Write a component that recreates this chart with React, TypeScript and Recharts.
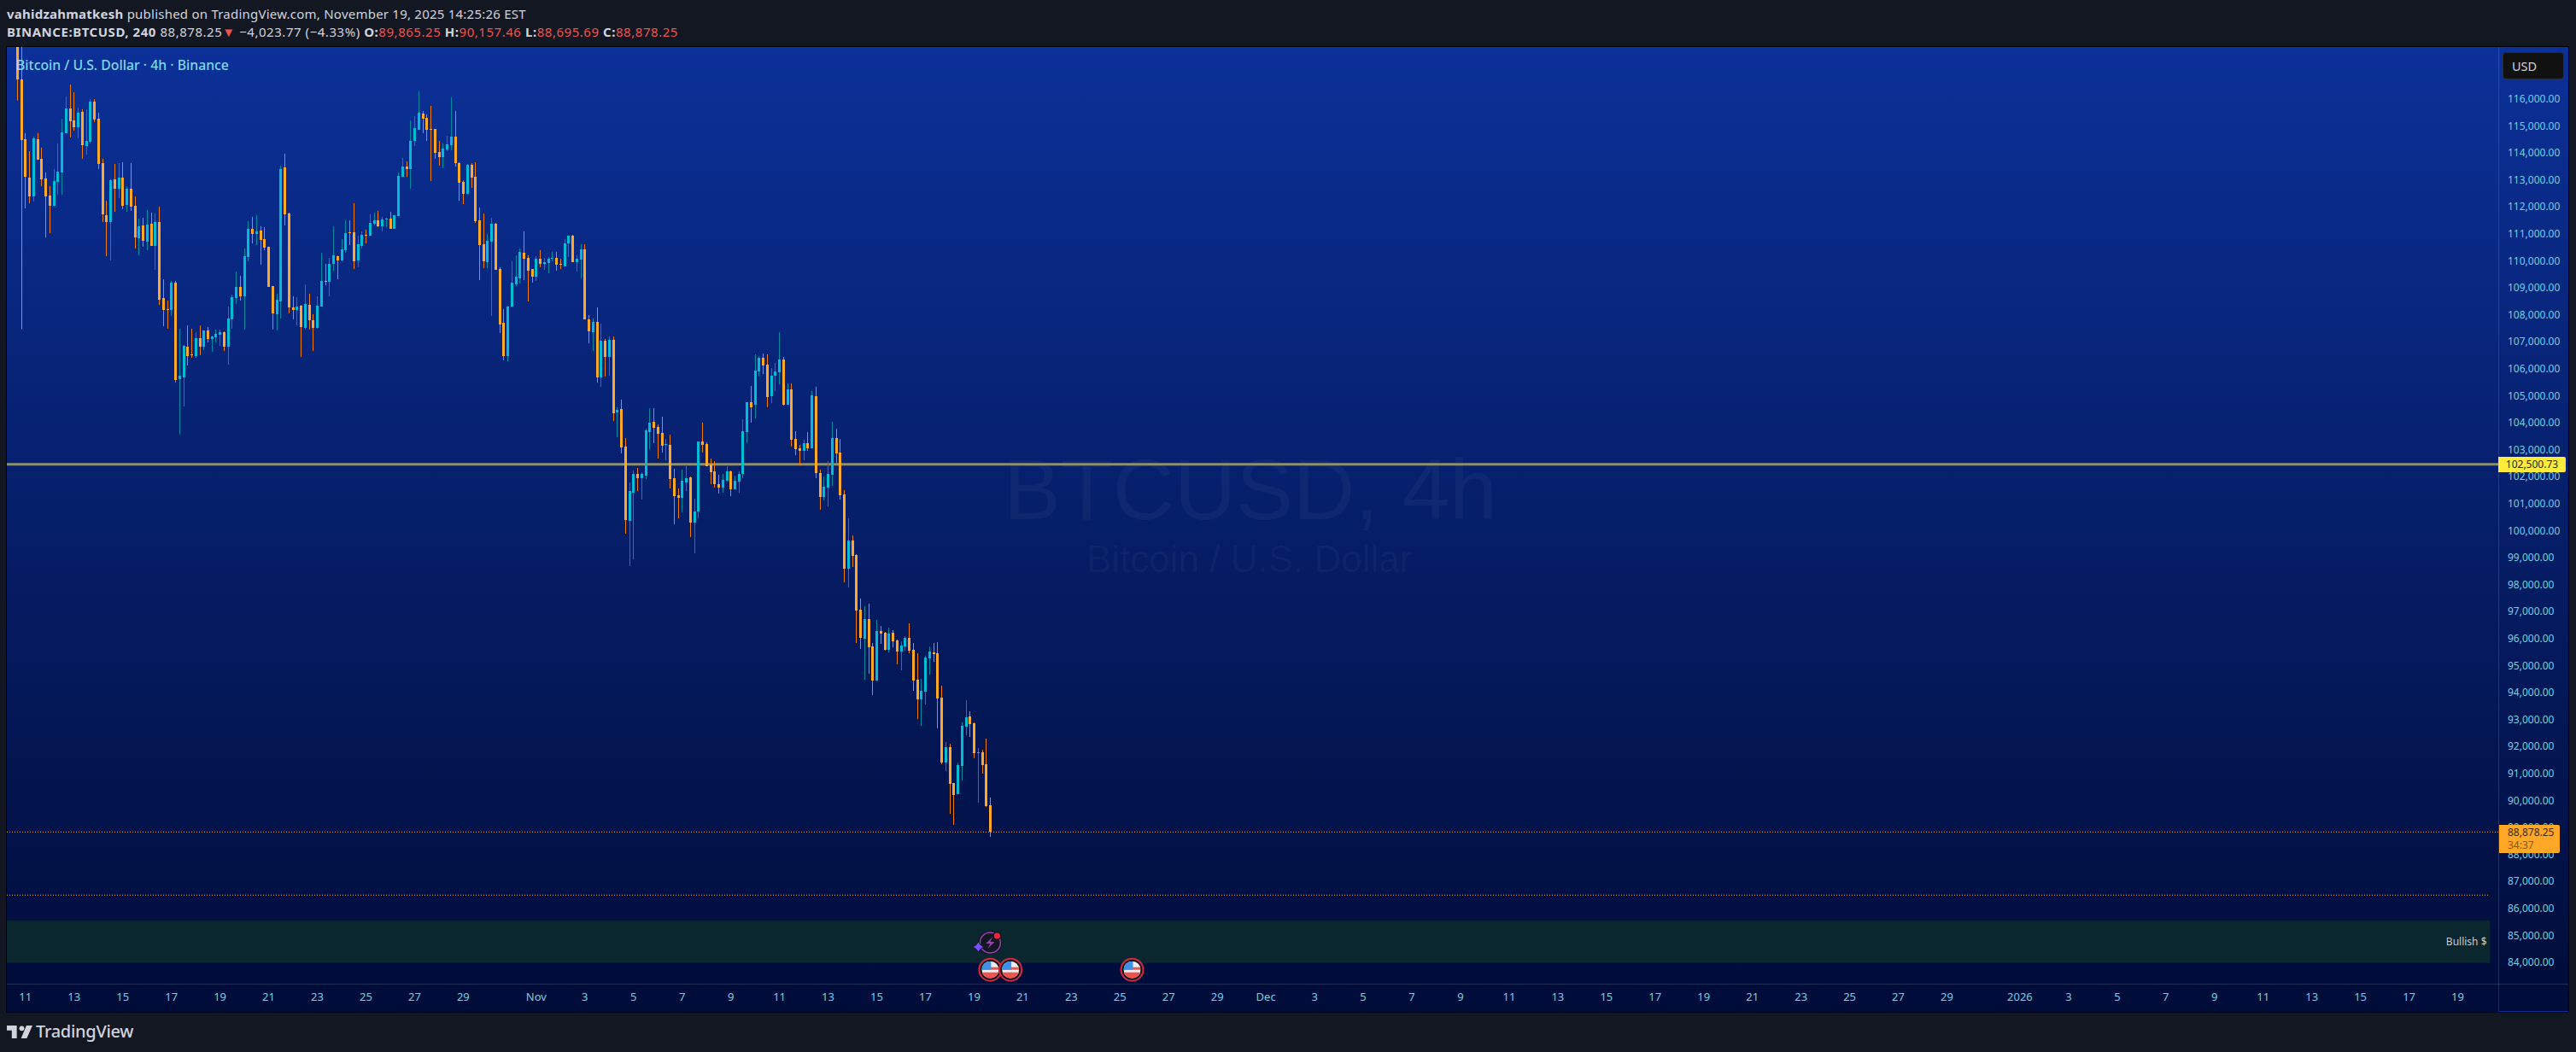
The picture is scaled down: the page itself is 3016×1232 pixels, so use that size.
import { Bar, ComposedChart, ReferenceArea, ReferenceDot, ReferenceLine, XAxis, YAxis } from 'recharts';

const opens = [
  119000, 116760, 114550, 113130, 112430, 114550, 113830, 113100, 112460, 112080, 112970, 113320, 114780, 115690, 115250, 115000, 115570, 114300, 114460, 115950,
  115310, 113670, 111740, 111480, 113070, 112720, 113130, 112120, 112720, 112080, 110880, 111360, 110760, 111420, 110600, 111480, 108670, 108260, 108220, 109240,
  105660, 105720, 106860, 106580, 106510, 107180, 106860, 107460, 107150, 107210, 107310, 107400, 106860, 107870, 108670, 109080, 108730, 110190, 111230, 111040,
  111170, 110850, 110570, 109110, 108070, 108540, 113510, 111800, 108320, 108220, 108380, 107560, 108410, 107840, 107560, 108350, 109300, 109270, 109930, 110220,
  110060, 110440, 111100, 111100, 110060, 110600, 111010, 110980, 111420, 111550, 111330, 111580, 111610, 111230, 111710, 113160, 113540, 113450, 114490, 114900,
  115500, 115340, 114930, 114930, 114080, 113890, 114170, 114330, 114650, 113670, 112970, 112530, 113600, 113160, 111550, 110660, 110000, 110760, 111420, 109740,
  107750, 106510, 108350, 109170, 109390, 110340, 110150, 109740, 109460, 110120, 109930, 109960, 110120, 110150, 109930, 109840, 110690, 110980, 110000, 110090,
  110470, 107880, 107400, 107780, 105720, 107080, 106480, 107120, 104430, 104550, 103160, 100410, 101450, 102150, 101990, 102080, 103700, 104080, 103890, 103670,
  103220, 103220, 101990, 101360, 101260, 101830, 102020, 100340, 100750, 103350, 103250, 102500, 102240, 101770, 101640, 101890, 102240, 101580, 101860, 102150,
  103700, 104810, 104710, 105950, 106450, 106200, 105030, 105790, 105910, 106390, 104710, 105280, 103440, 103100, 103000, 103290, 103100, 105030, 102180, 101290,
  101640, 102120, 103480, 102940, 101390, 98630, 99680, 99140, 97110, 96040, 96770, 95750, 94490, 96320, 96260, 95630, 96260, 95980, 95560, 95750,
  96070, 95630, 94520, 93790, 94080, 95310, 95530, 95500, 93850, 91450, 92020, 90690, 90280, 91320, 92780, 93160, 92910, 91800, 91830, 91390,
  89865.25,
];
const highs = [
  119500, 118400, 114780, 114110, 114650, 114780, 114240, 113320, 112810, 113450, 114400, 115310, 116140, 116580, 116290, 115720, 115660, 115660, 116040, 116040,
  115530, 113830, 112270, 113070, 113640, 113670, 113700, 112810, 113670, 112430, 111610, 111640, 111930, 111830, 111800, 112050, 109360, 108570, 109300, 109300,
  107530, 106930, 107650, 107530, 107400, 107650, 107460, 107590, 107270, 107500, 107500, 107430, 108350, 108790, 109650, 109490, 110500, 111520, 111670, 111740,
  111330, 111290, 110570, 109110, 108830, 113570, 114020, 111830, 108730, 108700, 108410, 109170, 108830, 108070, 108730, 110340, 109930, 110150, 111330, 110240,
  110850, 111550, 111550, 112180, 110980, 111140, 111200, 111770, 111830, 111900, 111670, 111640, 111860, 111740, 113320, 113860, 113730, 115250, 115410, 116330,
  115600, 115470, 115790, 114930, 114490, 114400, 114680, 116100, 115600, 113700, 113030, 113640, 113670, 113700, 112020, 111800, 111040, 111640, 111450, 109810,
  108260, 108380, 110030, 110250, 110500, 111140, 110250, 109740, 110220, 110440, 110150, 110190, 110380, 110380, 110120, 110850, 110980, 111010, 110250, 110660,
  110660, 108030, 107910, 108320, 107720, 107150, 107240, 107240, 104620, 104900, 103480, 101830, 102270, 102370, 102210, 103820, 104580, 104580, 103980, 104270,
  103440, 103600, 102340, 101610, 102310, 102500, 102050, 101230, 103350, 104050, 103320, 102720, 102620, 102120, 102150, 102430, 102270, 102080, 102240, 104170,
  104810, 105410, 106580, 106510, 106610, 106580, 106070, 106260, 107400, 106480, 105500, 105500, 103730, 103220, 103410, 103700, 105220, 105380, 102310, 102050,
  102620, 104080, 103820, 103440, 101550, 100500, 99870, 99170, 97530, 97240, 97340, 95880, 96740, 96510, 96290, 96450, 96360, 96010, 95940, 96130,
  96610, 95880, 95500, 94550, 95410, 95750, 95880, 95910, 94300, 92210, 92150, 90690, 91450, 92940, 93760, 93350, 92940, 91990, 91920, 92340,
  90157.46,
];
const lows = [
  115990, 107510, 111990, 112180, 112240, 113780, 112810, 110910, 111070, 112050, 112500, 112500, 114780, 114620, 114870, 114590, 113830, 113980, 114400, 115190,
  113450, 111480, 110220, 110060, 111860, 112370, 111960, 111860, 111900, 110500, 110250, 110570, 110440, 110600, 109710, 108410, 107620, 107530, 108000, 105530,
  103620, 104650, 106170, 106450, 106450, 106550, 106740, 107020, 106670, 107020, 106890, 106700, 106200, 107530, 108450, 108570, 107500, 110030, 110690, 110630,
  109900, 110440, 109080, 107500, 107460, 107910, 111360, 108100, 107880, 107650, 106480, 107500, 107500, 106700, 107530, 108350, 109140, 108730, 109680, 109360,
  110030, 110340, 110630, 109740, 109810, 110500, 110690, 110980, 111360, 111290, 111140, 111290, 111230, 111230, 111710, 113160, 113160, 112720, 114300, 114900,
  114780, 114490, 113000, 113830, 113570, 113480, 114110, 114140, 113540, 112270, 112150, 112530, 112750, 111450, 109330, 109770, 109770, 108000, 109710, 107370,
  106360, 106320, 108320, 109110, 109200, 109330, 108540, 109240, 109300, 109810, 109710, 109580, 110030, 109680, 109740, 109840, 110190, 110000, 109650, 109390,
  107870, 106990, 106700, 105530, 105370, 105750, 105790, 104110, 103510, 102910, 99930, 98730, 98980, 101510, 101200, 101960, 103060, 103290, 102720, 102940,
  102650, 101610, 100280, 100500, 100720, 101510, 99810, 99200, 100500, 102940, 102430, 101770, 101640, 101420, 101450, 101890, 101320, 101580, 101450, 101990,
  103290, 104050, 104200, 105760, 105850, 104620, 104770, 105220, 105470, 104680, 104710, 103160, 102840, 102460, 102650, 103000, 103100, 101990, 100820, 101170,
  100940, 101700, 102560, 101200, 98130, 97940, 98700, 95880, 95660, 94520, 94740, 93950, 94490, 95850, 95600, 95530, 95720, 95090, 94870, 95600,
  95500, 94110, 93060, 92810, 93600, 94710, 95180, 92720, 91390, 91130, 89550, 89140, 90280, 90780, 92460, 92400, 91610, 89960, 91040, 89800,
  88695.69,
];
const closes = [
  116740, 114520, 113160, 112430, 114590, 113790, 113070, 112430, 112080, 113000, 113350, 114810, 115690, 115220, 115000, 115530, 114330, 114490, 115950, 115280,
  113640, 111770, 111480, 113030, 112720, 113130, 112080, 112720, 112050, 110910, 111330, 110790, 111390, 110600, 111480, 108600, 108220, 108220, 109240, 105630,
  105790, 106890, 106510, 106550, 107180, 106860, 107460, 107150, 107240, 107340, 107400, 106860, 107910, 108700, 109080, 108730, 110220, 111230, 111040, 111140,
  110820, 110530, 109080, 108100, 108600, 113450, 111770, 108320, 108220, 108350, 107590, 108450, 107840, 107560, 108380, 109300, 109270, 109930, 110250, 110060,
  110470, 111070, 111070, 110030, 110660, 111010, 110980, 111450, 111550, 111330, 111580, 111610, 111230, 111740, 113190, 113540, 113450, 114490, 114960, 115530,
  115310, 114900, 114900, 114050, 113890, 114200, 114360, 114650, 113670, 112940, 112530, 113600, 113130, 111520, 110630, 110030, 110790, 111420, 109710, 107690,
  106510, 108350, 109240, 109460, 110380, 110120, 109680, 109460, 110120, 109930, 110000, 110120, 110150, 109900, 109900, 110690, 110980, 110000, 110120, 110470,
  107880, 107430, 107780, 105720, 107080, 106480, 107120, 104390, 104520, 103130, 100440, 101510, 102150, 101990, 102150, 103760, 104050, 103860, 103630, 103190,
  103250, 101960, 101320, 101260, 101890, 101990, 100340, 100750, 103350, 103220, 102430, 102210, 101770, 101640, 101930, 102240, 101580, 101890, 102150, 103730,
  104810, 104620, 105980, 106450, 106170, 104990, 105790, 105950, 106390, 104710, 105280, 103410, 103060, 103000, 103290, 103100, 105060, 102180, 101290, 101670,
  102150, 103480, 102910, 101360, 98630, 99680, 99110, 97080, 96070, 96770, 95720, 94490, 96320, 96230, 95630, 96230, 95940, 95560, 95790, 96070,
  95600, 94490, 93790, 94110, 95340, 95560, 95470, 93820, 91450, 92020, 90660, 90250, 91350, 92810, 93130, 92870, 91800, 91830, 91350, 89830,
  88878.25,
];

const xTickBars = [
  2, 14, 26, 38, 50, 62, 74, 86, 98, 110, 128, 140, 152, 164, 176, 188, 200, 212, 224, 236, 248, 260, 272, 284, 296,
  308, 320, 332, 344, 356, 368, 380, 392, 404, 416, 428, 440, 452, 464, 476, 494, 506, 518, 530, 542, 554, 566, 578, 590, 602,
];
const xTickLabels = [
  '11', '13', '15', '17', '19', '21', '23', '25', '27', '29', 'Nov', '3', '5', '7', '9', '11', '13', '15', '17', '19', '21', '23', '25', '27', '29',
  'Dec', '3', '5', '7', '9', '11', '13', '15', '17', '19', '21', '23', '25', '27', '29', '2026', '3', '5', '7', '9', '11', '13', '15', '17', '19',
];
const yTicks = [
  84000, 85000, 86000, 87000, 88000, 89000, 90000, 91000, 92000, 93000, 94000, 95000, 96000, 97000, 98000, 99000, 100000,
  101000, 102000, 103000, 104000, 105000, 106000, 107000, 108000, 109000, 110000, 111000, 112000, 113000, 114000, 115000, 116000,
];

const keyLevel = 102500.73;
const lastPrice = 88878.25;
const lowerLevel = 86538;
const zoneTop = 85608;
const zoneBottom = 84026;
const flagBars = [240, 245, 275];
const flagPrice = 83772;
const signalBar = 240;
const signalPrice = 84775;

const candles = opens.map((open, i) => ({ i, open, close: closes[i], range: [lows[i], highs[i]] }));

const AXIS_TEXT = '#74d0e0';
const FONT = '"Noto Sans", sans-serif';

// wick + body in one shape, the body is placed by ratio inside the high/low range
function Candle(props: any) {
  const { x, y, width, height, payload } = props;
  const up = payload.close >= payload.open;
  const hi = payload.range[1];
  const lo = payload.range[0];
  const k = height / (hi - lo);
  const bodyTop = y + (hi - Math.max(payload.open, payload.close)) * k;
  const bodyBottom = y + (hi - Math.min(payload.open, payload.close)) * k;
  const cx = Math.floor(x + width / 2);
  return (
    <g>
      <rect x={cx} y={y} width={1} height={height} fill={up ? '#008c9e' : '#f57c00'} />
      <rect x={cx - 1} y={Math.round(bodyTop)} width={3} height={Math.max(1, Math.round(bodyBottom - bodyTop))} fill={up ? '#00bcd4' : '#ffa726'} />
    </g>
  );
}

function FlagMark(props: any) {
  const { cx, cy } = props;
  const id = `flag-${Math.round(cx)}`;
  return (
    <g>
      <clipPath id={id}>
        <circle cx={cx} cy={cy} r={10} />
      </clipPath>
      <circle cx={cx} cy={cy} r={13} fill="#131722" stroke="#d8283c" strokeWidth={2} />
      <g clipPath={`url(#${id})`}>
        <rect x={cx - 10} y={cy - 10} width={20} height={20} fill="#eeeeee" />
        <rect x={cx - 10} y={cy - 3} width={20} height={3} fill="#ef5350" />
        <rect x={cx - 10} y={cy + 3} width={20} height={7} fill="#ef5350" />
        <rect x={cx - 10} y={cy - 10} width={11} height={10} fill="#3d8fe8" />
      </g>
    </g>
  );
}

function SignalMark(props: any) {
  const { cx, cy } = props;
  return (
    <g>
      <circle cx={cx} cy={cy} r={14} fill="#131722" />
      <circle cx={cx} cy={cy} r={12} fill="none" stroke="#9c3fb5" strokeWidth={1.5} />
      <path d={`M${cx + 3} ${cy - 7} L${cx - 5} ${cy + 1} L${cx} ${cy + 1} L${cx - 3} ${cy + 7} L${cx + 5} ${cy - 1} L${cx} ${cy - 1} Z`} fill="#9c3fb5" />
      <circle cx={cx + 8} cy={cy - 8} r={5} fill="#131722" />
      <circle cx={cx + 8} cy={cy - 8} r={3.5} fill="#f2263c" />
      <path d={`M${cx - 14} ${cy - 1} L${cx - 11} ${cy + 3} L${cx - 7} ${cy + 5} L${cx - 11} ${cy + 7} L${cx - 14} ${cy + 11} L${cx - 17} ${cy + 7} L${cx - 21} ${cy + 5} L${cx - 17} ${cy + 3} Z`} fill="#7c4dff" stroke="#131722" strokeWidth={1} />
    </g>
  );
}

const label = (left: number, top: number, extra: any = {}) => ({
  position: 'absolute' as const,
  left,
  top,
  whiteSpace: 'nowrap' as const,
  lineHeight: 1,
  ...extra,
});

const RED = '#ef5350';
const GREY = '#d1d4dc';

export default function App() {
  return (
    <div style={{ position: 'absolute', left: 0, top: 0, width: 3016, height: 1232, background: '#131722', overflow: 'hidden', fontFamily: FONT }}>
      <div style={label(8, 9, { fontSize: 15, letterSpacing: 0.23, color: GREY })}>
        <b>vahidzahmatkesh</b> published on TradingView.com, November 19, 2025 14:25:26 EST
      </div>
      <div style={label(8, 30, { fontSize: 15, letterSpacing: 0.54, color: GREY })}>
        <b>BINANCE:BTCUSD, 240</b> 88,878.25<span style={{ color: RED }}>▼</span> −4,023.77 (−4.33%) <b>O:</b><span style={{ color: RED }}>89,865.25</span> <b>H:</b><span style={{ color: RED }}>90,157.46</span> <b>L:</b><span style={{ color: RED }}>88,695.69</span> <b>C:</b><span style={{ color: RED }}>88,878.25</span>
      </div>

      <div style={{ position: 'absolute', left: 8, top: 55, width: 2999, height: 1130, background: 'linear-gradient(180deg, #0b3098 0%, #000c38 100%)', boxShadow: '0 0 0 1px #000' }} />
      <div style={{ position: 'absolute', left: 2925, top: 55, width: 1, height: 1130, background: 'rgba(255,255,255,0.13)' }} />
      <div style={{ position: 'absolute', left: 8, top: 1152, width: 2999, height: 1, background: 'rgba(255,255,255,0.13)' }} />
      <div style={{ position: 'absolute', left: 2926, top: 1184, width: 81, height: 1, background: '#0b3098' }} />

      <div style={label(1175, 523, { fontFamily: '"Liberation Sans", sans-serif', fontSize: 100, color: 'rgba(255,255,255,0.04)' })}>BTCUSD, 4h</div>
      <div style={label(1272, 633, { fontFamily: '"Liberation Sans", sans-serif', fontSize: 44, color: 'rgba(255,255,255,0.035)' })}>Bitcoin / U.S. Dollar</div>

      <div style={{ position: 'absolute', left: 0, top: 0 }}>
        <ComposedChart width={3016} height={1232} data={candles} margin={{ top: 55, right: 9, bottom: 47, left: 8 }}>
          <XAxis
            dataKey="i"
            type="number"
            domain={[-2.59, 612]}
            allowDataOverflow
            ticks={xTickBars}
            interval={0}
            height={33}
            axisLine={false}
            tickLine={false}
            tickSize={0}
            tickMargin={11}
            tickFormatter={(v: number) => xTickLabels[xTickBars.indexOf(v)]}
            tick={{ fill: AXIS_TEXT, fontSize: 13, fontFamily: FONT }}
          />
          <YAxis
            orientation="right"
            type="number"
            domain={[83256, 117971]}
            allowDataOverflow
            ticks={yTicks}
            interval={0}
            width={82}
            axisLine={false}
            tickLine={false}
            tickSize={0}
            tickMargin={11}
            tickFormatter={(v: number) => `${v.toLocaleString('en-US')}.00`}
            tick={{ fill: AXIS_TEXT, fontSize: 12, fontFamily: FONT, dy: -1.5 }}
          />
          <ReferenceArea
            y1={zoneBottom}
            y2={zoneTop}
            x1={-2.59}
            x2={610}
            fill="#0a2730"
            fillOpacity={1}
            stroke="none"
            zIndex={100}
            label={{ value: 'Bullish $', position: 'insideRight', fill: '#c5cbd0', fontSize: 12, fontFamily: FONT, offset: 4 }}
          />
          <ReferenceLine y={keyLevel} stroke="#8e8f6c" strokeWidth={3} zIndex={100} />
          <ReferenceLine y={lastPrice} stroke="#ffa726" strokeWidth={1} strokeDasharray="1 2" zIndex={100} />
          <ReferenceLine segment={[{ x: -2.59, y: lowerLevel }, { x: 609.7, y: lowerLevel }]} stroke="#ffa726" strokeWidth={1} strokeDasharray="1 2" zIndex={100} />
          <Bar dataKey="range" barSize={3} isAnimationActive={false} shape={Candle} />
          {flagBars.map((b) => (
            <ReferenceDot key={b} x={b} y={flagPrice} r={13} shape={FlagMark} ifOverflow="visible" />
          ))}
          <ReferenceDot x={signalBar} y={signalPrice} r={13} shape={SignalMark} />
        </ComposedChart>
      </div>

      <div style={label(19, 69, { fontSize: 15.8, fontWeight: 500, color: '#80d8e8' })}>Bitcoin / U.S. Dollar · 4h · Binance</div>

      <div style={{ position: 'absolute', left: 2930, top: 61, width: 72, height: 32, boxSizing: 'border-box', background: '#111111', border: '1px solid #2a2e39', borderRadius: 4, color: GREY, fontSize: 14.5, lineHeight: '30px', paddingLeft: 10 }}>USD</div>

      <div style={{ position: 'absolute', left: 2925, top: 535, width: 79, height: 18, background: '#ffeb3b', color: '#222222', fontSize: 12, lineHeight: '18px', textAlign: 'center', borderRadius: '0 2px 2px 0' }}>102,500.73</div>
      <div style={{ position: 'absolute', left: 2926, top: 966, width: 71, height: 33, background: '#ffa726', borderRadius: '0 2px 2px 0', fontSize: 12, lineHeight: '15px', paddingLeft: 10, boxSizing: 'border-box', paddingTop: 1 }}>
        <div style={{ color: '#3d2a08' }}>88,878.25</div>
        <div style={{ color: '#7f5a18' }}>34:37</div>
      </div>

      <svg style={{ position: 'absolute', left: 8, top: 1201 }} width={30} height={15} viewBox="0 0 36 18">
        <path d="M14 18H7V7H0V0h14v18zM28 18h-8L27.500 0H36l-8 18z" fill={GREY} />
        <circle cx={21} cy={4} r={3.500} fill={GREY} />
      </svg>
      <div style={label(42, 1198, { fontSize: 20, fontWeight: 500, color: GREY, letterSpacing: -0.3 })}>TradingView</div>
    </div>
  );
}
